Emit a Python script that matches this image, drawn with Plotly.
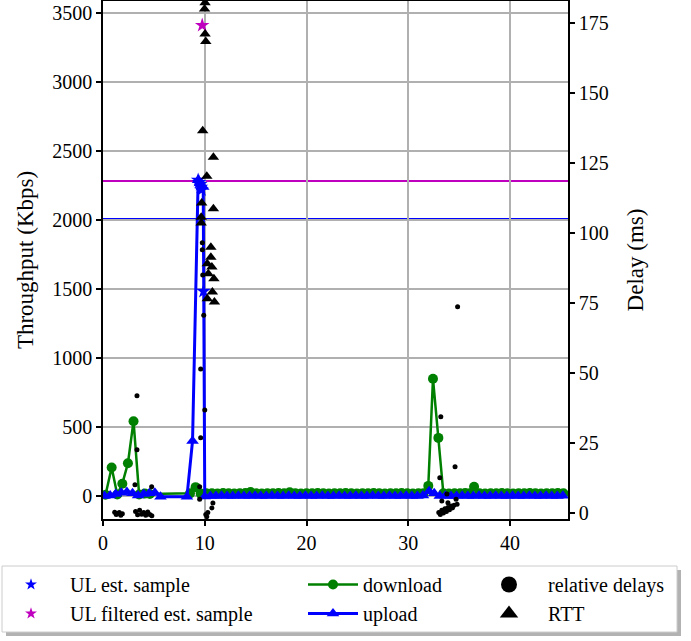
import plotly.graph_objects as go
from plotly.subplots import make_subplots

# ---------------- data ----------------
dl_t = [0.25, 0.85, 1.4, 1.9, 2.45, 3.0, 3.55, 4.1, 4.6,
        8.55, 9.1, 9.6, 10.15, 10.7, 11.25, 11.8, 12.35, 12.9, 13.45, 14.0, 14.5,
        15.05, 15.6, 16.15, 16.7, 17.25, 17.8, 18.35, 18.9, 19.45, 20.0, 20.55,
        21.1, 21.65, 22.2, 22.75, 23.3, 23.85, 24.4, 24.95, 25.5, 26.05, 26.6,
        27.15, 27.7, 28.25, 28.8, 29.35, 29.9, 30.45, 31.0, 31.5, 31.97, 32.43,
        32.96, 33.45, 34.0, 34.55, 35.1, 35.6, 36.05, 36.47, 37.0, 37.55, 38.1,
        38.65, 39.2, 39.75, 40.3, 40.85, 41.4, 41.95, 42.5, 43.05, 43.6, 44.15,
        44.7, 45.25]
dl_v = [10, 207, 12, 90, 238, 543, 12, 18, 15,
        20, 65, 18, 20, 20, 18, 22, 20, 18, 20, 22, 30,
        20, 18, 20, 20, 22, 20, 28, 20, 18, 20, 20,
        22, 20, 18, 20, 20, 22, 20, 18, 20, 20, 22,
        20, 18, 20, 20, 22, 20, 18, 20, 20, 74, 851,
        422, 20, 18, 20, 20, 22, 20, 67, 20, 18, 20,
        20, 22, 20, 18, 20, 20, 22, 20, 18, 20, 20,
        22, 20]

ul_t = [0.15, 0.7, 1.25, 1.8, 2.35, 2.9, 3.45, 4.0, 4.55, 5.1, 5.65,
        8.25, 8.8, 9.35, 9.85, 10.0, 10.55, 11.1, 11.65, 12.2, 12.75, 13.3,
        13.85, 14.4, 14.95, 15.5, 16.05, 16.6, 17.15, 17.7, 18.25, 18.8, 19.35,
        19.9, 20.45, 21.0, 21.55, 22.1, 22.65, 23.2, 23.75, 24.3, 24.85, 25.4,
        25.95, 26.5, 27.05, 27.6, 28.15, 28.7, 29.25, 29.8, 30.35, 30.9, 31.45,
        32.05, 32.55, 33.1, 33.65, 34.2, 34.75, 35.3, 35.85, 36.4, 36.95, 37.5,
        38.05, 38.6, 39.15, 39.7, 40.25, 40.8, 41.35, 41.9, 42.45, 43.0, 43.55,
        44.1, 44.65, 45.2]
ul_v = [0, 5, 15, 25, 30, 20, 5, 15, 20, 25, -5,
        -5, 400, 2290, 2240, -3, 0, 0, 2, 0, 0, 2,
        0, 0, 2, 0, 0, 2, 0, 0, 2, 0, 0,
        2, 0, 0, 2, 0, 0, 2, 0, 0, 2, 0,
        0, 2, 0, 0, 2, 0, 0, 2, 0, 0, 5,
        35, 20, 0, 2, 0, 0, 2, 0, 0, 2, 0,
        0, 2, 0, 0, 2, 0, 0, 2, 0, 0, 2,
        0, 0, 2]

est_t = [9.35, 9.45, 9.55, 9.62, 9.68, 9.88]
est_v = [2290, 2275, 2260, 2240, 2220, 1485]
filt_t = [9.75]
filt_v = [3413]
ul_est_level = 2008
ul_filt_level = 2285

rel_t = [1.15, 1.3, 1.45, 1.6, 1.75, 1.9,
         3.2, 3.4, 3.6, 3.8, 4.0, 4.2, 4.4, 4.6, 4.8,
         3.34, 3.34, 3.14, 4.78,
         9.76, 9.76, 9.8, 9.9, 9.6, 10.0, 9.6, 9.5, 9.5, 10.8, 10.7, 10.2, 10.1, 10.3,
         33.2, 33.1, 34.6, 33.8, 33.3, 33.9, 34.7, 34.8, 34.85,
         33.0, 33.15, 33.3, 33.45, 33.6, 33.75, 33.9, 34.05, 34.2, 34.35, 34.5]
rel_d = [0.3, -0.5, -0.2, 0.2, -0.8, -0.3,
         0.5, -0.6, 1.0, -0.4, 0.2, -0.8, 0.4, -0.5, -1.0,
         41.9, 22.6, 10.1, 9.4,
         96.5, 94.0, 85.0, 70.6, 51.4, 36.8, 26.9, 9.4, 4.9, 3.6, 1.8, -1.3, -0.5, 0.2,
         34.4, 12.6, 16.5, 6.8, 4.3, 3.7, 4.9, 3.1, 73.6,
         0.2, -0.5, 1.0, 0.0, 1.5, 0.5, 2.0, 1.2, 2.5, 1.8, 2.8]

rtt_t = [10.03, 9.98, 10.03, 10.1, 9.8, 10.85, 10.2, 9.7, 10.85, 9.65, 9.65,
         10.6, 10.6, 10.25, 10.7, 10.35, 10.9, 10.75, 10.25, 10.95]
rtt_d = [182.2, 179.9, 171.0, 168.3, 136.5, 127.0, 120.2, 110.7, 108.6, 105.6, 103.5,
         94.9, 91.3, 89.0, 87.8, 85.4, 83.6, 78.9, 76.5, 75.3]

x_range = [0, 45.7]
x_ticks = [0, 10, 20, 30, 40]
y_ticks = [0, 500, 1000, 1500, 2000, 2500, 3000, 3500]
y2_ticks = [0, 25, 50, 75, 100, 125, 150, 175]

# ---------------- layout helpers ----------------
W, H = 691, 641
ML, MR, MT, MB = 103, 123, 1, 122
PW, PH = W - ML - MR, H - MT - MB
FONT = "Liberation Serif"


def px2x(px):
    return (px - ML) / PW


def py2y(py):
    return (H - MB - py) / PH


fig = make_subplots(specs=[[{"secondary_y": True}]])

fig.add_trace(go.Scatter(x=dl_t, y=dl_v, mode="lines+markers", name="download",
                         line=dict(color="#008000", width=2.5),
                         marker=dict(symbol="circle", size=10, color="#008000"),
                         legend="legend2"), secondary_y=False)
fig.add_trace(go.Scatter(x=ul_t, y=ul_v, mode="lines+markers", name="upload",
                         line=dict(color="#0000ff", width=3),
                         marker=dict(symbol="triangle-up", size=11, color="#0000ff"),
                         legend="legend2"), secondary_y=False)
fig.add_trace(go.Scatter(x=est_t, y=est_v, mode="markers", showlegend=False,
                         marker=dict(symbol="star", size=11, color="#0000ff")),
              secondary_y=False)
fig.add_trace(go.Scatter(x=filt_t, y=filt_v, mode="markers", showlegend=False,
                         marker=dict(symbol="star", size=11, color="#bf00bf")),
              secondary_y=False)
fig.add_trace(go.Scatter(x=rel_t, y=rel_d, mode="markers", showlegend=False,
                         marker=dict(symbol="circle", size=5, color="black")),
              secondary_y=True)
fig.add_trace(go.Scatter(x=rtt_t, y=rtt_d, mode="markers", showlegend=False,
                         marker=dict(symbol="triangle-up", size=10, color="black")),
              secondary_y=True)

# legend proxies
fig.add_trace(go.Scatter(x=[None], y=[None], mode="markers", name="UL est. sample",
                         marker=dict(symbol="star", size=9, color="#0000ff"), legend="legend"))
fig.add_trace(go.Scatter(x=[None], y=[None], mode="markers", name="UL filtered est. sample",
                         marker=dict(symbol="star", size=9, color="#bf00bf"), legend="legend"))
fig.add_trace(go.Scatter(x=[None], y=[None], mode="markers", name="relative delays",
                         marker=dict(symbol="circle", size=16, color="black"), legend="legend3"))
fig.add_trace(go.Scatter(x=[None], y=[None], mode="markers", name="RTT",
                         marker=dict(symbol="triangle-up", size=16, color="black"), legend="legend3"))

axis_common = dict(showline=True, linecolor="black", linewidth=1.5, ticks="outside",
                   ticklen=5, tickwidth=1.5, tickcolor="black",
                   tickfont=dict(family=FONT, size=20, color="black"), zeroline=False)

fig.update_xaxes(range=x_range, tickvals=x_ticks, showgrid=True, gridcolor="#b0b0b0",
                 gridwidth=1.5, mirror=True, domain=[0, 1], **axis_common)
fig.update_yaxes(range=[-166, 3589], tickvals=y_ticks, showgrid=True, gridcolor="#b0b0b0",
                 gridwidth=1.5,
                 title=dict(text="Throughput (Kbps)", font=dict(family=FONT, size=23, color="black"),
                            standoff=12),
                 secondary_y=False, **axis_common)
fig.update_yaxes(range=[-2.14, 182.8], tickvals=y2_ticks, showgrid=False,
                 title=dict(text="Delay (ms)", font=dict(family=FONT, size=23, color="black"),
                            standoff=19),
                 secondary_y=True, **axis_common)

leg_common = dict(yref="paper", xref="paper", xanchor="left", yanchor="top",
                  y=py2y(565), bgcolor="rgba(0,0,0,0)", borderwidth=0,
                  font=dict(family=FONT, size=20, color="black"), tracegroupgap=0)

shapes = [
    dict(type="line", xref="x", yref="y", x0=x_range[0], x1=x_range[1],
         y0=ul_filt_level, y1=ul_filt_level, line=dict(color="#bf00bf", width=2), layer="below"),
    dict(type="line", xref="x", yref="y", x0=x_range[0], x1=x_range[1],
         y0=ul_est_level, y1=ul_est_level, line=dict(color="#0000ff", width=2), layer="below"),
    dict(type="rect", xref="paper", yref="paper", x0=px2x(6), x1=px2x(681),
         y0=py2y(636), y1=py2y(570), fillcolor="rgba(0,0,0,0.3)", line=dict(width=0),
         layer="above"),
    dict(type="rect", xref="paper", yref="paper", x0=px2x(2), x1=px2x(677),
         y0=py2y(632), y1=py2y(566), fillcolor="white",
         line=dict(color="#cccccc", width=1), layer="above"),
]

fig.update_layout(
    width=W, height=H,
    margin=dict(l=ML, r=MR, t=MT, b=MB, autoexpand=False),
    plot_bgcolor="rgba(0,0,0,0)", paper_bgcolor="white",
    showlegend=True,
    legend=dict(x=px2x(-8), itemwidth=68, **leg_common),
    legend2=dict(x=px2x(303), itemwidth=50, **leg_common),
    legend3=dict(x=px2x(470), itemwidth=68, **leg_common),
    shapes=shapes,
)

fig.write_html("out.html")
